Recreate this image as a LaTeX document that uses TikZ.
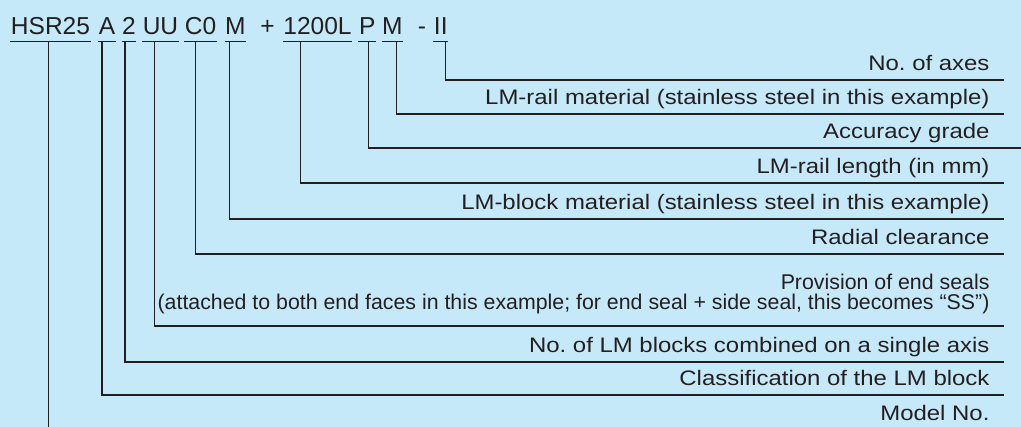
\documentclass[tikz,border=0pt]{standalone}
\usepackage{fontspec}
\setmainfont{Liberation Sans}
\newfontfamily\wideface[FakeStretch=1.14]{Liberation Sans}
\usepackage{tikz}
\usetikzlibrary{calc}
\definecolor{bgblue}{RGB}{198,233,249}
\definecolor{ink}{RGB}{35,31,32}
\frenchspacing
\tikzset{
	code/.style={inner sep=0pt, anchor=base, text depth=4.8pt, font=\fontsize{18.4}{22}\selectfont},
	lbl/.style={anchor=south east, inner xsep=10.5pt, inner ysep=6.75pt, text depth=0pt, font=\wideface\fontsize{15.75}{19}\selectfont}
}
\begin{document}
\begin{tikzpicture}[x=0.75pt, y=-0.75pt, ink, line width=0.8pt]
		\fill[bgblue] (0,0) rectangle (1021,427);
		\useasboundingbox (0,0) rectangle (1021,427);
		\node[code] (HSR) at (50.5,34.3) {HSR25};
		\node[code] (A) at (107,34.3) {A};
		\node[code] (N) at (129,34.3) {2};
		\node[code] (UU) at (160.5,34.3) {UU};
		\node[code] (C0) at (200.5,34.3) {C0};
		\node[code] (M1) at (235.3,34.3) {M};
		\node[code] (plus) at (267.5,34.3) {+};
		\node[code] (Len) at (317.5,34.3) {1200L};
		\node[code] (P) at (367.2,34.3) {P};
		\node[code] (M2) at (392.3,34.3) {M};
		\node[code] (dash) at (422,34.3) {-};
		\node[code] (II) at (440.8,34.3) {II};
		\node[lbl] (Lax) at (1004,80) {No. of axes};
		\node[lbl] (Lrm) at (1004,114) {LM-rail material (stainless steel in this example)};
		\node[lbl] (Lgr) at (1004,148) {Accuracy grade};
		\node[lbl] (Lrl) at (1004,183) {LM-rail length (in mm)};
		\node[lbl] (Lbm) at (1004,219) {LM-block material (stainless steel in this example)};
		\node[lbl] (Lrc) at (1004,254) {Radial clearance};
		\node[lbl, align=right, inner ysep=11.6pt, font=\fontsize{16}{15}\selectfont] (Lseal) at (1004,326) {Provision of end seals\\(attached to both end faces in this example; for end seal + side seal, this becomes “SS”)};
		\node[lbl] (Lnb) at (1004,362) {No. of LM blocks combined on a single axis};
		\node[lbl] (Lcl) at (1004,395) {Classification of the LM block};
		\node[lbl] (Lmod) at (1004,429.7) {Model No.};
		\coordinate (edge) at (1021,0);
		\coordinate (HSRfoot) at ($(HSR.south)+(-2,0)$);
		\path (HSR.south west) edge (HSR.south east)
			(A.south west) edge (A.south east)
			(N.south west) edge (N.south east)
			(UU.south west) edge (UU.south east)
			(C0.south west) edge (C0.south east)
			(M1.south west) edge (M1.south east)
			(Len.south west) edge (Len.south east)
			(P.south west) edge (P.south east)
			(M2.south west) edge (M2.south east)
			(II.south west) edge (II.south east);
		\draw ($(II.south)+(5,0)$) |- (Lax.south east);
		\draw ($(M2.south)+(4,0)$) |- (Lrm.south east);
		\draw ($(P.south)+(1,0)$) |- (edge |- Lgr.south east);
		\draw ($(Len.south)+(-17,0)$) |- (Lrl.south east);
		\draw ($(M1.south)+(-6,0)$) |- (Lbm.south east);
		\draw ($(C0.south)+(-5,0)$) |- (Lrc.south east);
		\draw ($(UU.south)+(-6,0)$) |- (Lseal.south east);
		\draw ($(N.south)+(-4,0)$) |- (Lnb.south east);
		\draw ($(A.south)+(-5,0)$) |- (Lcl.south east);
		\draw (HSRfoot) -- (HSRfoot |- Lmod.south);
	\end{tikzpicture}
\end{document}
